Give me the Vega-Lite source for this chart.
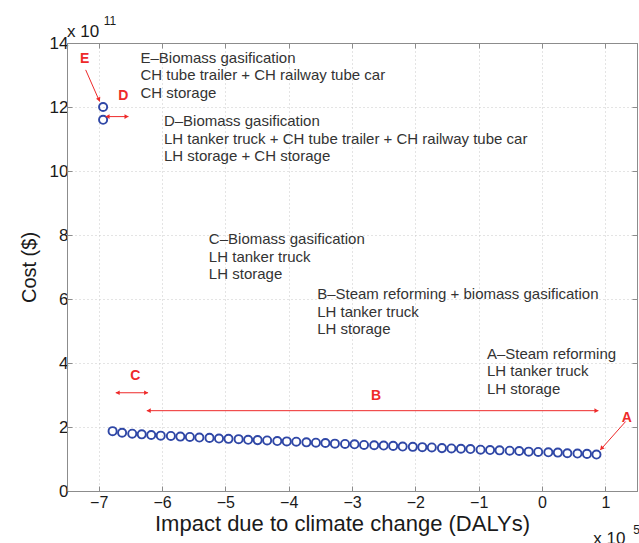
{
  "$schema": "https://vega.github.io/schema/vega-lite/v6.json",
  "width": 570,
  "height": 448,
  "autosize": {"type": "none"},
  "padding": {"left": 67, "top": 43, "right": 2, "bottom": 52},
  "background": "white",
  "config": {
    "view": {"stroke": "#8c8c8c", "strokeWidth": 1},
    "font": "Liberation Sans",
    "axis": {
      "labelFont": "Liberation Sans",
      "titleFont": "Liberation Sans",
      "labelColor": "#1a1a1a",
      "titleColor": "#1a1a1a",
      "titleFontWeight": "normal",
      "domainColor": "#8c8c8c",
      "tickColor": "#8c8c8c",
      "gridColor": "#c8c8c8",
      "gridDash": [1, 3],
      "gridWidth": 1
    }
  },
  "datasets": {
    "pts": [
      {"x": -6.78, "y": 1.87}, {"x": -6.63, "y": 1.82}, {"x": -6.47, "y": 1.79}, {"x": -6.32, "y": 1.77},
      {"x": -6.17, "y": 1.75}, {"x": -6.02, "y": 1.73}, {"x": -5.86, "y": 1.72}, {"x": -5.71, "y": 1.70},
      {"x": -5.56, "y": 1.69}, {"x": -5.41, "y": 1.67}, {"x": -5.25, "y": 1.66}, {"x": -5.10, "y": 1.64},
      {"x": -4.95, "y": 1.63}, {"x": -4.79, "y": 1.62}, {"x": -4.64, "y": 1.60}, {"x": -4.49, "y": 1.59},
      {"x": -4.34, "y": 1.58}, {"x": -4.18, "y": 1.56}, {"x": -4.03, "y": 1.55}, {"x": -3.88, "y": 1.54},
      {"x": -3.72, "y": 1.52}, {"x": -3.57, "y": 1.51}, {"x": -3.42, "y": 1.50}, {"x": -3.27, "y": 1.48},
      {"x": -3.11, "y": 1.47}, {"x": -2.96, "y": 1.46}, {"x": -2.81, "y": 1.44}, {"x": -2.65, "y": 1.43},
      {"x": -2.50, "y": 1.42}, {"x": -2.35, "y": 1.41}, {"x": -2.20, "y": 1.39}, {"x": -2.04, "y": 1.38},
      {"x": -1.89, "y": 1.37}, {"x": -1.74, "y": 1.36}, {"x": -1.58, "y": 1.34}, {"x": -1.43, "y": 1.33},
      {"x": -1.28, "y": 1.32}, {"x": -1.13, "y": 1.31}, {"x": -0.97, "y": 1.29}, {"x": -0.82, "y": 1.28},
      {"x": -0.67, "y": 1.27}, {"x": -0.51, "y": 1.26}, {"x": -0.36, "y": 1.25}, {"x": -0.21, "y": 1.23},
      {"x": -0.06, "y": 1.22}, {"x": 0.10, "y": 1.21}, {"x": 0.25, "y": 1.20}, {"x": 0.40, "y": 1.18},
      {"x": 0.56, "y": 1.17}, {"x": 0.71, "y": 1.16}, {"x": 0.86, "y": 1.14},
      {"x": -6.93, "y": 12.0}, {"x": -6.93, "y": 11.6}
    ],
    "notes": [
      {"x": -6.34, "y": 13.39, "text": "E–Biomass gasification\nCH tube trailer + CH railway tube car\nCH storage"},
      {"x": -5.97, "y": 11.40, "text": "D–Biomass gasification\nLH tanker truck + CH tube trailer + CH railway tube car\nLH storage + CH storage"},
      {"x": -5.26, "y": 7.71, "text": "C–Biomass gasification\nLH tanker truck\nLH storage"},
      {"x": -3.55, "y": 5.99, "text": "B–Steam reforming + biomass gasification\nLH tanker truck\nLH storage"},
      {"x": -0.87, "y": 4.14, "text": "A–Steam reforming\nLH tanker truck\nLH storage"}
    ],
    "letters": [
      {"x": -7.22, "y": 13.5, "label": "E"},
      {"x": -6.61, "y": 12.35, "label": "D"},
      {"x": -6.42, "y": 3.59, "label": "C"},
      {"x": -2.62, "y": 2.97, "label": "B"},
      {"x": 1.34, "y": 2.29, "label": "A"}
    ],
    "arrows": [
      {"x": -7.205, "y": 13.16, "x2": -6.985, "y2": 12.17},
      {"x": -6.89, "y": 11.7, "x2": -6.53, "y2": 11.7},
      {"x": -6.73, "y": 3.07, "x2": -6.22, "y2": 3.07},
      {"x": -6.24, "y": 2.51, "x2": 0.89, "y2": 2.51},
      {"x": 1.32, "y": 2.17, "x2": 0.92, "y2": 1.28}
    ],
    "heads": [
      {"x": -6.86, "y": 11.7, "kind": "left"},
      {"x": -6.70, "y": 3.07, "kind": "left"},
      {"x": -6.21, "y": 2.51, "kind": "left"},
      {"x": -6.56, "y": 11.7, "kind": "right"},
      {"x": -6.25, "y": 3.07, "kind": "right"},
      {"x": 0.86, "y": 2.51, "kind": "right"},
      {"x": -6.995, "y": 12.23, "kind": "E"},
      {"x": 0.94, "y": 1.33, "kind": "A"}
    ],
    "expo": [
      {"x": -7.5, "y": 14.19, "t": "x 10", "sz": "big"},
      {"x": -6.92, "y": 14.56, "t": "11", "sz": "small"},
      {"x": 0.81, "y": -1.66, "t": "x 10", "sz": "big"},
      {"x": 1.44, "y": -1.33, "t": "5", "sz": "small"}
    ]
  },
  "layer": [
    {
      "data": {"name": "pts"},
      "mark": {"type": "point", "shape": "circle", "filled": false, "stroke": "#2f47a6", "strokeWidth": 1.9, "size": 66, "opacity": 1},
      "encoding": {
        "x": {"field": "x", "type": "quantitative",
          "scale": {"domain": [-7.5, 1.5], "nice": false, "zero": false},
          "axis": {"title": "Impact due to climate change (DALYs)", "values": [-7, -6, -5, -4, -3, -2, -1, 0, 1],
            "labelFontSize": 16, "titleFontSize": 22, "tickSize": -5, "labelPadding": 8, "titlePadding": 3, "titleX": 275, "titleAlign": "center", "grid": true}},
        "y": {"field": "y", "type": "quantitative",
          "scale": {"domain": [0, 14], "nice": false, "zero": false},
          "axis": {"title": "Cost ($)", "values": [0, 2, 4, 6, 8, 10, 12, 14],
            "labelFontSize": 17, "titleFontSize": 20, "tickSize": -5, "labelPadding": 4, "titlePadding": 10, "grid": true}}
      }
    },
    {
      "data": {"name": "notes"},
      "mark": {"type": "text", "align": "left", "baseline": "alphabetic", "lineBreak": "\n", "lineHeight": 17.5, "fontSize": 15, "color": "#333333", "font": "Liberation Sans"},
      "encoding": {
        "x": {"field": "x", "type": "quantitative", "scale": {"domain": [-7.5, 1.5], "nice": false, "zero": false}, "axis": null},
        "y": {"field": "y", "type": "quantitative", "scale": {"domain": [0, 14], "nice": false, "zero": false}, "axis": null},
        "text": {"field": "text"}
      }
    },
    {
      "data": {"name": "arrows"},
      "mark": {"type": "rule", "color": "#ee2a2a", "strokeWidth": 1},
      "encoding": {
        "x": {"field": "x", "type": "quantitative", "scale": {"domain": [-7.5, 1.5], "nice": false, "zero": false}, "axis": null},
        "y": {"field": "y", "type": "quantitative", "scale": {"domain": [0, 14], "nice": false, "zero": false}, "axis": null},
        "x2": {"field": "x2"},
        "y2": {"field": "y2"}
      }
    },
    {
      "data": {"name": "heads"},
      "transform": [{"filter": "datum.kind === 'left'"}],
      "mark": {"type": "point", "shape": "triangle-left", "filled": true, "color": "#ee2a2a", "size": 22, "opacity": 1},
      "encoding": {
        "x": {"field": "x", "type": "quantitative", "scale": {"domain": [-7.5, 1.5], "nice": false, "zero": false}, "axis": null},
        "y": {"field": "y", "type": "quantitative", "scale": {"domain": [0, 14], "nice": false, "zero": false}, "axis": null}
      }
    },
    {
      "data": {"name": "heads"},
      "transform": [{"filter": "datum.kind === 'right'"}],
      "mark": {"type": "point", "shape": "triangle-right", "filled": true, "color": "#ee2a2a", "size": 22, "opacity": 1},
      "encoding": {
        "x": {"field": "x", "type": "quantitative", "scale": {"domain": [-7.5, 1.5], "nice": false, "zero": false}, "axis": null},
        "y": {"field": "y", "type": "quantitative", "scale": {"domain": [0, 14], "nice": false, "zero": false}, "axis": null}
      }
    },
    {
      "data": {"name": "heads"},
      "transform": [{"filter": "datum.kind === 'E'"}],
      "mark": {"type": "point", "shape": "triangle-up", "filled": true, "color": "#ee2a2a", "size": 22, "angle": 156, "opacity": 1},
      "encoding": {
        "x": {"field": "x", "type": "quantitative", "scale": {"domain": [-7.5, 1.5], "nice": false, "zero": false}, "axis": null},
        "y": {"field": "y", "type": "quantitative", "scale": {"domain": [0, 14], "nice": false, "zero": false}, "axis": null}
      }
    },
    {
      "data": {"name": "heads"},
      "transform": [{"filter": "datum.kind === 'A'"}],
      "mark": {"type": "point", "shape": "triangle-up", "filled": true, "color": "#ee2a2a", "size": 22, "angle": 221, "opacity": 1},
      "encoding": {
        "x": {"field": "x", "type": "quantitative", "scale": {"domain": [-7.5, 1.5], "nice": false, "zero": false}, "axis": null},
        "y": {"field": "y", "type": "quantitative", "scale": {"domain": [0, 14], "nice": false, "zero": false}, "axis": null}
      }
    },
    {
      "data": {"name": "letters"},
      "mark": {"type": "text", "align": "center", "baseline": "middle", "fontSize": 14, "fontWeight": "bold", "color": "#ee2a2a", "font": "Liberation Sans"},
      "encoding": {
        "x": {"field": "x", "type": "quantitative", "scale": {"domain": [-7.5, 1.5], "nice": false, "zero": false}, "axis": null},
        "y": {"field": "y", "type": "quantitative", "scale": {"domain": [0, 14], "nice": false, "zero": false}, "axis": null},
        "text": {"field": "label"}
      }
    },
    {
      "data": {"name": "expo"},
      "mark": {"type": "text", "align": "left", "baseline": "alphabetic", "color": "#1a1a1a", "font": "Liberation Sans", "clip": false},
      "encoding": {
        "x": {"field": "x", "type": "quantitative", "scale": {"domain": [-7.5, 1.5], "nice": false, "zero": false},
          "axis": {"orient": "top", "labels": false, "title": null, "grid": false, "tickSize": -5, "values": [-7, -6, -5, -4, -3, -2, -1, 0, 1]}},
        "y": {"field": "y", "type": "quantitative", "scale": {"domain": [0, 14], "nice": false, "zero": false},
          "axis": {"orient": "right", "labels": false, "title": null, "grid": false, "tickSize": -5, "values": [0, 2, 4, 6, 8, 10, 12, 14]}},
        "text": {"field": "t"},
        "size": {"field": "sz", "type": "nominal", "scale": {"domain": ["big", "small"], "range": [17, 12]}, "legend": null}
      }
    }
  ],
  "resolve": {"scale": {"x": "independent", "y": "independent", "size": "independent"}, "axis": {"x": "independent", "y": "independent"}}
}
